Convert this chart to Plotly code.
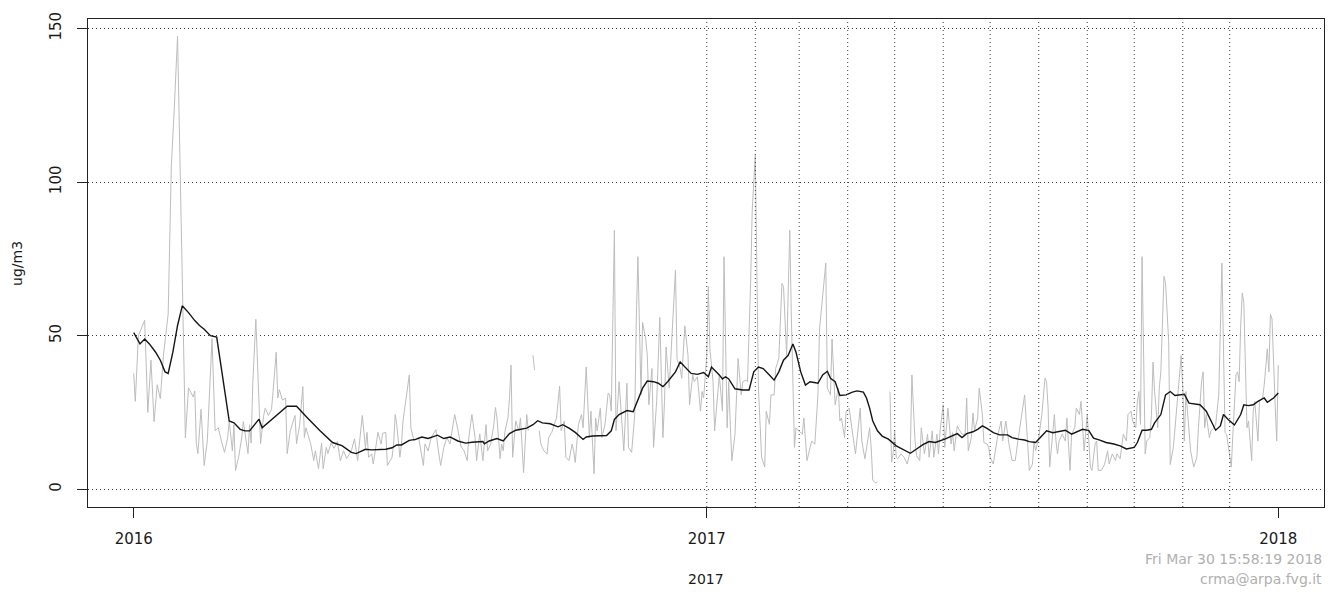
import pandas as pd
import plotly.graph_objects as go

START = pd.Timestamp("2016-01-01")

# daily concentration (grey line): day offset from 2016-01-01 and value (ug/m3); None = missing
raw_day = [0, 1, 3, 7, 9, 11, 13, 15, 17, 19, 22, 24, 26, 28, 33, 35, 38, 39, 40, 41, 43, 45, 47, 50, 52, 54, 56, 58, 60, 61,
           63, 64, 65, 67, 69, 70, 73, 74, 75, 76, 78, 80, 81, 83, 84, 86, 88, 89, 91, 92, 93, 95, 97, 98, 100, 103, 104, 106, 108, 109,
           110, 113, 115, 116, 118, 120, 121, 123, 124, 126, 128, 130, 132, 134, 136, 139, 141, 143, 146, 148, 149, 150, 152, 153, 155, 156, 158, 159, 161, 162,
           165, 166, 167, 168, 170, 171, 172, 174, 176, 177, 179, 182, 185, 186, 188, 190, 193, 194, 196, 198, 200, 202, 204, 205, 207, 209, 211, 213, 214, 216,
           218, 219, 221, 223, 225, 226, 228, 230, 231, 232, 234, 235, 236, 237, 239, 240, 241, 242, 244, 246, 247, 249, 251, 252, 253, 255, 256, 257, 259, 260,
           262, 264, 265, 267, 270, 272, 273, 275, 276, 278, 280, 281, 282, 284, 286, 287, 289, 291, 292, 294, 295, 296, 298, 299, 301, 303, 304, 305, 307, 308,
           310, 311, 313, 315, 316, 318, 320, 321, 322, 324, 325, 327, 328, 329, 331, 332, 334, 336, 338, 339, 340, 342, 343, 346, 347, 349, 350, 352, 354, 355,
           357, 358, 360, 362, 363, 364, 366, 367, 368, 370, 371, 373, 374, 376, 377, 379, 380, 381, 382, 384, 386, 388, 389, 391, 392, 394, 395, 397, 398, 399,
           401, 403, 404, 406, 407, 409, 410, 412, 414, 415, 417, 419, 420, 421, 422, 423, 425, 427, 428, 430, 432, 433, 435, 437, 438, 440, 442, 443, 445, 446,
           447, 448, 450, 451, 452, 454, 455, 457, 458, 460, 461, 464, 465, 467, 468, 470, 471, 472, 474, 475, 476, 483, 484, 485, 486, 487, 488, 490, 492, 494,
           496, 497, 499, 500, 502, 503, 505, 507, 508, 510, 511, 513, 514, 515, 517, 518, 520, 522, 523, 524, 526, 527, 529, 531, 532, 533, 535, 536, 537, 539,
           540, 542, 543, 545, 546, 547, 549, 550, 552, 554, 555, 557, 559, 561, 563, 565, 567, 569, 570, 572, 574, 575, 576, 578, 580, 582, 583, 584, 585, 586,
           588, 589, 590, 591, 593, 595, 596, 598, 599, 601, 602, 604, 605, 607, 608, 609, 611, 612, 614, 615, 616, 618, 620, 622, 623, 625, 627, 628, 630, 632,
           634, 635, 637, 638, 640, 641, 642, 643, 644, 646, 647, 649, 650, 651, 652, 654, 655, 656, 658, 659, 661, 662, 664, 666, 667, 669, 670, 671, 672, 674,
           675, 677, 679, 680, 682, 683, 684, 685, 687, 688, 690, 691, 693, 695, 697, 698, 700, 701, 702, 704, 705, 706, 707, 708, 709, 711, 712, 714, 715, 716,
           718, 719, 721, 722, 724, 725, 726, 727, 729, 730, 731]
raw_val = [37.7, 28.6, 50, 55, 25, 42, 22, 34, 29.5, 43.7, 57, 105, 125, 147.5, 16.7, 33, 30, 32, 14.8, 11.6, 26, 7.7, 15.7, 49, 19, 20, 15.7, 12, 16.8, 22.2,
           12.5, 21, 6.1, 10.4, 16.8, 22, 11.6, 21, 15, 34, 55.3, 31, 14.8, 24, 26.4, 24, 26, 31.8, 44.6, 29.7, 32.4, 29, 29.7, 11.6, 19, 24, 14.8, 21, 33.4, 16.8,
           20, 14.8, 9.3, 12.5, 6.7, 15, 6.7, 13.6, 11.6, 15, 13.3, 15.5, 9.3, 12.5, 10, 12.5, 16.4, 9.3, 24, 13.5, 18.5, 10.4, 11.5, 8.2, 14.7, 18.5, 14.7, 18.2, 18.5, 7.7,
           10.4, 14.7, 24.3, 21, 10.4, 14.7, 22.2, 30.7, 37.2, 20, 15.7, 16.8, 7.7, 14.7, 12.5, 16.8, 19.4, 14.7, 7.7, 13.5, 16.8, 14.7, 20.5, 24.3, 19.4, 14, 12.5, 9.3, 16.8, 24.3,
           16.8, 9.3, 18, 9.3, 21, 12.5, 14.7, 21, 26.6, 23.2, 10, 14.7, 12.5, 18.5, 23.2, 29.7, 40.4, 10.4, 22.2, 19, 23.2, 5.4, 24.3, 19, None, 43.6, 38.8, None, 19, 14.7,
           12.5, 11.4, 16.8, 18.5, 23.2, 33.6, 19, 22.2, 10.4, 9.3, 14.7, 12.5, 8.7, 21, 24.3, 20, 39.8, 16.8, 25.4, 5, 23.2, 19, 26.4, 16.8, 21.1, 31.3, 30.7, 25.4, 84.3, 19,
           35, 26.4, 12.5, 34.5, 13.6, 12, 24.3, 55.4, 75.7, 30.7, 54.3, 48.9, 43.6, 27.5, 39.3, 13.6, 28.6, 55.9, 16.8, 28.6, 46.3, 32.9, 43.6, 71.4, 42.5, 39.3, 36.1, 53.2, 43.6, 27.5,
           37.2, 35, 36.6, 25.4, 31.8, 29.7, 43.6, 66, 45.7, 35, 19, 32.9, 37.2, 25.4, 75.7, 20, 35, 21.1, 9.3, 17.9, 42.5, 30.7, 35, 35.5, 35, 67, 90.7, 108.9, 63.9, 32.9,
           10.4, 7.2, 25.4, 21.1, 30.7, 30.7, 39.3, 42.5, 67, 66, 43.6, 84.3, 56.4, 35, 13.6, 20, 19, 17.9, 23.2, 9.3, 13.6, 15.7, 14.6, 30.7, 52.1, 62, 73.6, 32.9, 30.7, 48.9,
           37.2, 27.5, 32.9, 22.2, 23.2, 16.8, 25.4, 26.4, 22.2, 15.7, 11.5, 26.4, 15.7, 9.9, 13.6, 20, 13.6, 2.9, 2, 2.4, None, 31.8, 8.8, 11.5, 19, 10.4, 9.9, 11.5, 10.4, 8.2,
           12.5, 37.2, 15.7, 10.9, 9.3, 20, 11.5, 17.9, 10.4, 19, 10.4, 17.9, 11.5, 19, 27.5, 13.6, 26.4, 14.7, 18.4, 12.5, 20.6, 19.5, 17.9, 17.9, 29.7, 12.5, 16.8, 24.8, 19, 23.2,
           32.9, 24.3, 15.2, 14.7, 13.6, 10.4, 8.2, 11.5, 17.9, 22.2, 15.7, 22.2, 14.7, 9.3, 9.3, 16.8, 23.2, 30.7, 22.2, 6.1, 8.2, 15.7, 12.5, 16.8, 24.3, 36.1, 35, 26.4, 7.2, 13.6,
           24.3, 15.7, 11.5, 15.7, 17.9, 15.7, 23.2, 6.1, 17.9, 20, 26.4, 24.3, 28.6, 12.5, 19, 24.3, 7.2, 6.1, 14.7, 15.7, 6.1, 6.1, 8, 12.5, 8.2, 11.5, 9.3, 11.5, 9.9, 17.9,
           15.7, 24.3, 25.4, 22.2, 20, 28.6, 31.8, 21.1, 75.7, 11.5, 15.7, 16.8, 24.3, 41.4, 31.8, 20, 32.9, 38.2, 69.3, 67.1, 48, 8, 13.6, 26.4, 30.7, 43.6, 32.9, 15.7, 31.8, 20,
           12.5, 7.2, 10.4, 20, 35, 38.2, 20, 24.3, 16.8, 19, 20, 21.1, 30.7, 73.6, 18.4, 17.9, 11.5, 7.2, 17.9, 37.2, 38.2, 35, 53.2, 63.9, 60.7, 20, 22.2, 9.3, 25.4, 28.6,
           15.7, 28.6, 29.7, 33.9, 45.7, 38.2, 57, 55.4, 27.5, 15.7, 40.4]

# running mean (black line)
avg_day = [0, 4, 7, 10, 14, 17, 20, 22, 25, 28, 31, 35, 39, 42, 45, 49, 53, 56, 59, 61, 64, 68, 71, 74, 80, 82, 98, 104, 111, 119,
           127, 133, 139, 142, 148, 152, 161, 165, 168, 171, 176, 180, 184, 188, 194, 198, 202, 207, 212, 216, 223, 224, 227, 232, 236, 240, 244, 251, 255, 258,
           261, 266, 271, 274, 278, 282, 287, 289, 293, 296, 302, 305, 307, 310, 315, 319, 322, 325, 328, 332, 335, 338, 341, 346, 349, 352, 356, 360, 364, 367,
           369, 374, 376, 378, 380, 384, 389, 393, 396, 399, 402, 406, 409, 412, 415, 418, 421, 423, 426, 429, 432, 437, 440, 443, 445, 448, 451, 455, 459, 462,
           466, 468, 470, 472, 475, 478, 482, 487, 491, 496, 500, 504, 508, 512, 518, 523, 526, 529, 532, 536, 539, 542, 545, 549, 553, 558, 561, 565, 569, 572,
           576, 579, 583, 587, 595, 599, 602, 606, 610, 613, 617, 621, 626, 630, 634, 639, 641, 644, 647, 650, 652, 656, 659, 662, 665, 668, 671, 674, 677, 681,
           685, 688, 691, 694, 696, 699, 703, 707, 709, 712, 715, 718, 722, 724, 728, 731]
avg_val = [51, 47.3, 48.9, 47.3, 44.6, 42, 38.2, 37.7, 44.6, 53.3, 59.7, 57.5, 54.9, 53.3, 52.1, 50, 49.5, 39.3, 27.6, 22.2, 21.6, 19.5, 19, 19, 22.8, 20, 27, 27, 23.2, 19,
           15.2, 14.2, 12, 11.6, 13, 12.8, 13, 13.5, 14.4, 14.4, 15.9, 16.2, 17, 16.5, 17.6, 16.5, 17, 15.7, 15, 15.3, 15.5, 14.8, 15.7, 16.5, 15.7, 18.1, 19.2, 19.9, 21, 22.3,
           21.6, 21.3, 20.3, 21, 19.9, 18.5, 16.2, 17, 17.3, 17.3, 17.5, 19, 22.7, 24.3, 25.6, 25.2, 29.1, 32.9, 35.2, 35, 34.5, 33.4, 35, 38.2, 41.4, 39.8, 37.7, 37.4, 38, 36.6,
           39.8, 37.2, 35.9, 36.6, 35.9, 32.7, 32.3, 32.3, 38.2, 39.8, 39.3, 37.2, 35.5, 38.2, 42, 43.6, 47.3, 44.6, 38.2, 33.9, 35, 34.5, 37.2, 38.4, 36.1, 35, 30.5, 30.7, 31.6, 32,
           31.6, 29.7, 26.4, 22.2, 19, 17.3, 16.3, 14.1, 13.1, 11.7, 13.1, 14.5, 15.5, 15.2, 16.3, 17.3, 18.1, 16.8, 18.1, 18.7, 19.5, 20.6, 19.8, 18.4, 17.7, 17.7, 16.8, 16.3, 16, 15.5,
           15.2, 16.8, 19, 18.4, 19.2, 17.9, 18.6, 19.5, 19.1, 16.6, 16, 15.2, 14.7, 14.1, 13.1, 13.6, 15.2, 19.2, 19.2, 19.5, 21.6, 24.3, 30.7, 31.8, 30.5, 30.7, 30.9, 28, 27.7, 27.5,
           25.4, 22.2, 19.2, 20.6, 24.3, 22.7, 20.9, 24.3, 27.5, 27.2, 27.5, 28.6, 29.7, 28.3, 29.7, 31.3]

x_tick_dates = ["2016-01-01", "2017-01-01", "2018-01-01"]
x_tick_labels = ["2016", "2017", "2018"]
y_ticks = [0, 50, 100, 150]
month_lines = ["2017-01-01", "2017-02-01", "2017-03-01", "2017-04-01", "2017-05-01", "2017-06-01",
               "2017-07-01", "2017-08-01", "2017-09-01", "2017-10-01", "2017-11-01", "2017-12-01"]
x_title = "2017"
y_title = "ug/m3"
footer_lines = ["Fri Mar 30 15:58:19 2018", "crma@arpa.fvg.it"]

raw_dates = START + pd.to_timedelta(raw_day, unit="D")
avg_dates = START + pd.to_timedelta(avg_day, unit="D")

pad = pd.Timedelta(days=29.2)
x_range = [pd.Timestamp(x_tick_dates[0]) - pad, pd.Timestamp(x_tick_dates[-1]) + pad]

FONT = "DejaVu Sans"
DOT = "1px,3px"

fig = go.Figure()
fig.add_trace(go.Scatter(x=raw_dates, y=raw_val, mode="lines", connectgaps=False,
                         line=dict(color="#bdbdbd", width=1), showlegend=False, hoverinfo="skip"))
fig.add_trace(go.Scatter(x=avg_dates, y=avg_val, mode="lines",
                         line=dict(color="#151515", width=1.4), showlegend=False, hoverinfo="skip"))

for m in month_lines:
    fig.add_shape(type="line", xref="x", yref="paper", x0=m, x1=m, y0=0, y1=1,
                  line=dict(color="#3c3c3c", width=1, dash=DOT), layer="above")

fig.update_layout(
    width=1341, height=595,
    margin=dict(l=88, r=17, t=12, b=88),
    paper_bgcolor="white", plot_bgcolor="white",
    font=dict(family=FONT, size=15, color="#1a1a1a"),
    xaxis=dict(range=x_range, tickmode="array", tickvals=x_tick_dates, ticktext=x_tick_labels,
               ticks="outside", ticklen=10, tickwidth=1, tickcolor="#222",
               showline=True, mirror=True, linecolor="#222", linewidth=1.2,
               showgrid=False, zeroline=False, ticklabelstandoff=8,
               tickfont=dict(family=FONT, size=15, color="#1a1a1a")),
    yaxis=dict(range=[-5.8, 153.1], tickmode="array", tickvals=y_ticks, tickangle=-90,
               ticks="outside", ticklen=10, tickwidth=1, tickcolor="#222",
               showline=True, mirror=True, linecolor="#222", linewidth=1.2,
               showgrid=True, gridcolor="#3c3c3c", gridwidth=1, griddash=DOT,
               zeroline=False, ticklabelstandoff=10,
               tickfont=dict(family=FONT, size=15, color="#1a1a1a")),
    annotations=[
        dict(text=x_title, xref="paper", yref="paper", x=0.5, y=-0.148, xanchor="center", yanchor="middle",
             showarrow=False, font=dict(family=FONT, size=14, color="#1a1a1a")),
        dict(text=y_title, xref="paper", yref="paper", x=-0.0575, y=0.5, xanchor="center", yanchor="middle",
             textangle=-90, showarrow=False, font=dict(family=FONT, size=14, color="#1a1a1a")),
        dict(text=footer_lines[0], xref="paper", yref="paper", x=1, y=-0.107, xanchor="right", yanchor="middle",
             showarrow=False, font=dict(family=FONT, size=14, color="#b0b0b0")),
        dict(text=footer_lines[1], xref="paper", yref="paper", x=1, y=-0.148, xanchor="right", yanchor="middle",
             showarrow=False, font=dict(family=FONT, size=14, color="#b0b0b0")),
    ],
)

fig.write_html("out.html", config={"displayModeBar": False},
               post_script="document.body.style.margin='0';")
